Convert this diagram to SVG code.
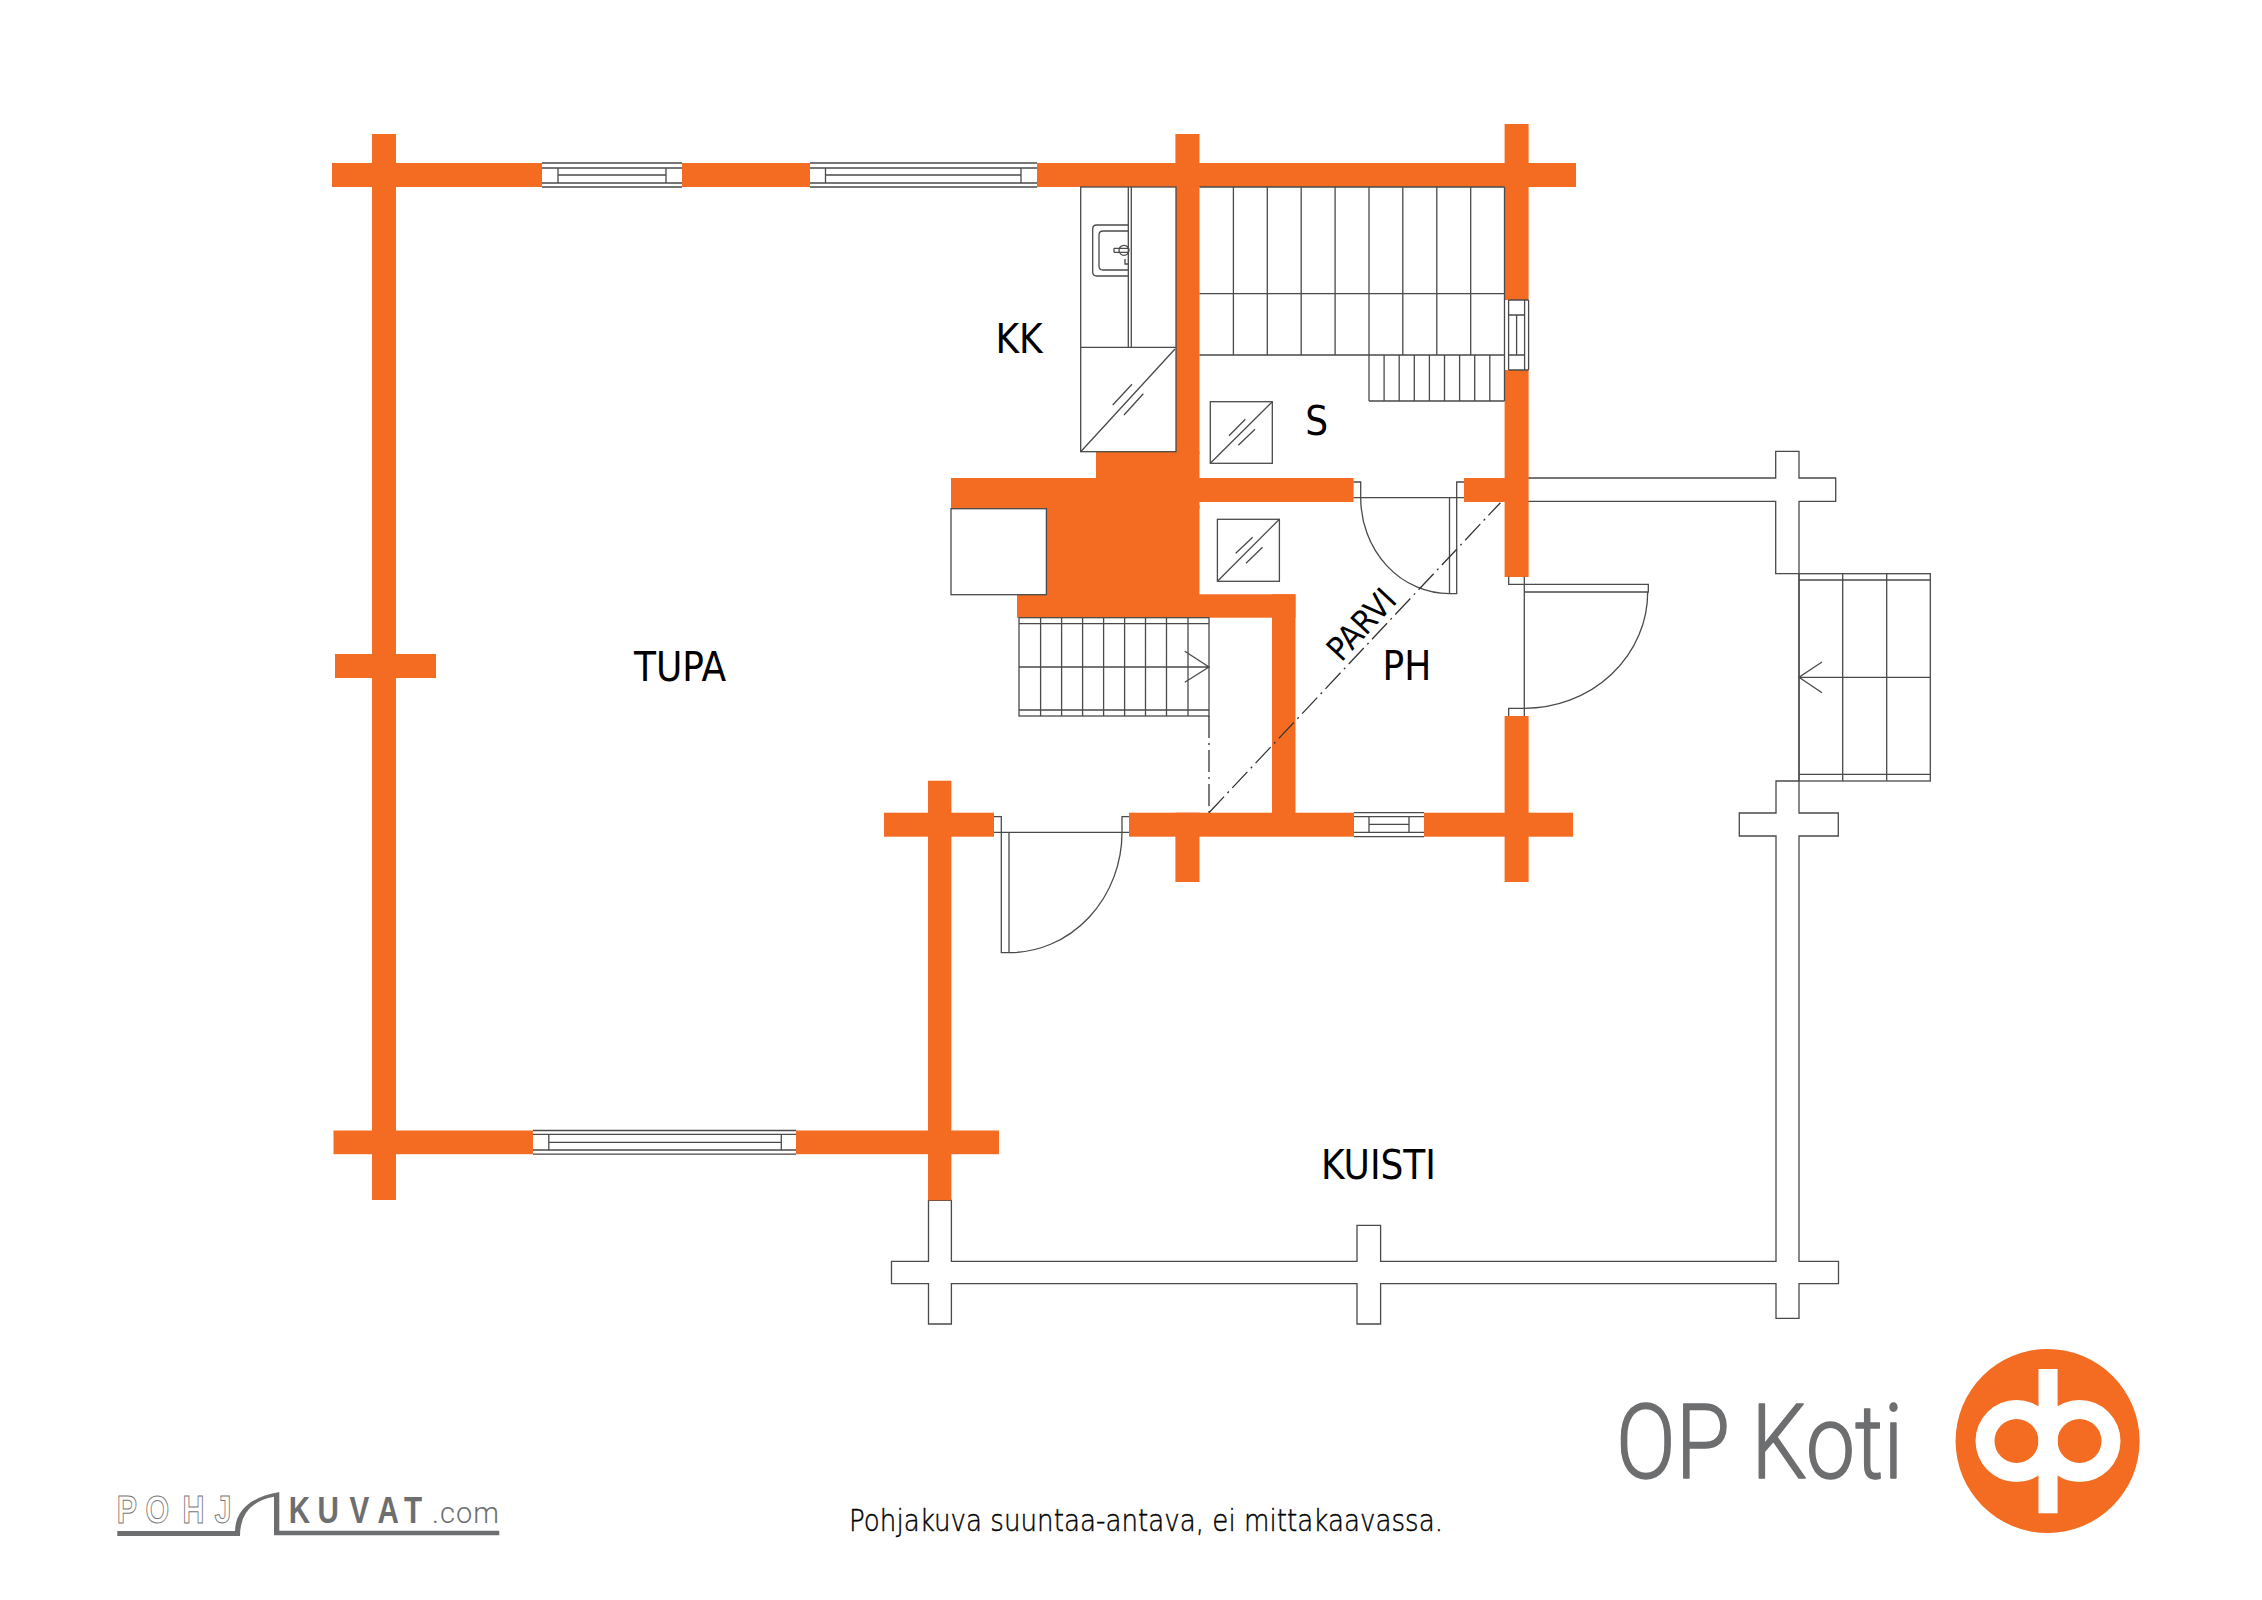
<svg xmlns="http://www.w3.org/2000/svg" width="2262" height="1600" viewBox="0 0 2262 1600">
<style>
.w{fill:#f36c21}
.l{fill:none;stroke:#4a4a4a;stroke-width:1.3}
.f{fill:#fff;stroke:#4a4a4a;stroke-width:1.3}
.n{fill:#fff}
.t{font-family:"DejaVu Sans","Liberation Sans",sans-serif;font-stretch:condensed;fill:#000;text-anchor:middle}
.r{font-size:40px}
.d{fill:none;stroke:#333;stroke-width:1.3;stroke-dasharray:22 5 2 5}
.g{fill:#6d6e70}
</style>
<rect width="2262" height="1600" fill="#fff"/>
<g id="porch-outline">
<path class="f" d="M1527.3 478H1775.7V451.3H1799V478H1835.7V501.3H1799V813H1838.3V836H1799V1261.3H1838.5V1283.7H1799V1318.3H1776V1283.7H1380.6V1324H1357V1283.7H951.4V1324H928.5V1283.7H891.5V1261.3H928.5V1200.3H951.4V1261.3H1357V1225.3H1380.6V1261.3H1776V836H1739.3V813H1776V781H1799V573.7H1775.7V501.3H1527.3Z"/>
</g>
<g id="walls">
<rect class="w" x="332" y="163" width="1244" height="24"/>
<rect class="w" x="372" y="134" width="24" height="1066"/>
<rect class="w" x="1175.4" y="134" width="24.1" height="320"/>
<rect class="w" x="1504.6" y="124" width="24" height="453"/>
<rect class="w" x="1504.6" y="716" width="24" height="166"/>
<rect class="w" x="335" y="654" width="101" height="24"/>
<rect class="w" x="1199" y="478" width="154.6" height="24"/>
<rect class="w" x="1464" y="478" width="41" height="24"/>
<rect class="w" x="1096" y="451.7" width="103.5" height="30"/>
<rect class="w" x="951" y="478" width="248.5" height="31"/>
<rect class="w" x="1046.4" y="505" width="153.1" height="92"/>
<rect class="w" x="1017" y="594.3" width="278.5" height="23.4"/>
<rect class="w" x="1272" y="594.3" width="23.5" height="230"/>
<rect class="w" x="1129" y="812.7" width="444" height="24"/>
<rect class="w" x="1175.4" y="812.7" width="24.1" height="69.3"/>
<rect class="w" x="928" y="780.7" width="23.4" height="419.6"/>
<rect class="w" x="884" y="812.7" width="110" height="24"/>
<rect class="w" x="333.5" y="1130.5" width="665.5" height="23.7"/>
</g>
<g id="windows">
<g id="window-top-1">
<rect class="n" x="542" y="163" width="140" height="24"/>
<path class="l" d="M542 163H682M542 168H682M542 183H682M542 187H682M558 168V183M666 168V183M558 175H666"/>
</g>
<g id="window-top-2">
<rect class="n" x="810" y="163" width="227" height="24"/>
<path class="l" d="M810 163H1037M810 168H1037M810 183H1037M810 187H1037M825.5 168V183M1021 168V183M825.5 175H1021"/>
</g>
<g id="window-bottom">
<rect class="n" x="533" y="1130.5" width="263" height="23.7"/>
<path class="l" d="M533 1130.5H796M533 1134.3H796M533 1150H796M533 1154.2H796M548.8 1134.3V1150M781.3 1134.3V1150M548.8 1142.3H781.3"/>
</g>
<g id="window-ph">
<rect class="n" x="1354" y="812.7" width="70" height="24"/>
<path class="l" d="M1354 812.7H1424M1354 816.7H1424M1354 832.3H1424M1354 836.7H1424M1369 816.7V832.3M1409 816.7V832.3M1369 824.3H1409"/>
</g>
<g id="window-s">
<rect class="n" x="1504.6" y="300" width="24" height="70"/>
<path class="l" d="M1508.6 300H1528.6M1508.6 370H1528.6M1508.6 300V370M1524.6 300V370M1528.6 300V370M1508.6 315H1524.6M1508.6 355H1524.6M1516.6 315V355"/>
</g>
</g>
<g id="kitchen">
<rect class="f" x="1080.7" y="187" width="95.3" height="264.7"/>
<path class="l" d="M1080.7 347.3H1176M1128.3 187V347.3M1131.3 187V347.3M1080.7 451.7L1175 349M1112.7 405L1132 384.3M1124 415L1143.3 393.7"/>
<path class="l" d="M1128.3 225H1096.7Q1092.7 225 1092.7 229V272Q1092.7 276 1096.7 276H1128.3M1128.3 231H1103Q1099 231 1099 235V266Q1099 270 1103 270H1128.3"/>
<circle class="l" cx="1124" cy="250.3" r="5"/>
<path class="l" d="M1114 248.3H1128M1114 252.3H1128M1114 248.3V252.3M1125 259V264H1128"/>
</g>
<g id="sauna-benches">
<path class="l" d="M1199.5 187H1504.6M1199.5 293.7H1504.6M1199.5 355H1504.6M1233.4 187V355M1267.3 187V355M1301.2 187V355M1335.1 187V355M1369 187V401M1402.8 187V355M1436.8 187V355M1470.7 187V355M1504.5 187V401M1369 401H1504.5M1384.1 355V401M1399.2 355V401M1414.3 355V401M1429.4 355V401M1444.5 355V401M1459.6 355V401M1474.7 355V401M1489.8 355V401"/>
</g>
<g id="stove-s">
<rect class="l" x="1210.3" y="401.7" width="62" height="61.6"/>
<path class="l" d="M1210.3 463.3L1272.3 401.7M1229 435.7L1245.3 419.3M1238.3 445.3L1255 429.3"/>
</g>
<g id="stove-ph">
<rect class="l" x="1217.4" y="519.3" width="62" height="62"/>
<path class="l" d="M1217.4 581.3L1279.4 519.3M1235.7 553.3L1252.7 537.3M1246 563.3L1262.5 547.3"/>
</g>
<g id="fireplace">
<rect class="f" x="951" y="508.7" width="95.4" height="86"/>
</g>
<g id="stairs">
<rect class="l" x="1019" y="617.7" width="190" height="98.3"/>
<path class="l" d="M1019 623.7H1209M1019 667H1209M1019 710H1209M1040.6 617.7V716M1061.6 617.7V716M1082.6 617.7V716M1103.6 617.7V716M1124.6 617.7V716M1145.5 617.7V716M1166.5 617.7V716M1188 617.7V716M1184.8 651.3L1209 667L1184.8 682.3"/>
</g>
<g id="porch-stairs">
<rect class="l" x="1799" y="573.7" width="131.3" height="207.3"/>
<path class="l" d="M1799 580H1930.3M1799 677.3H1930.3M1799 774.3H1930.3M1842.7 573.7V781M1886.7 573.7V781M1822 662L1799 677.3L1822 692.7"/>
</g>
<g id="doors">
<g id="door-s">
<path class="l" d="M1353.6 482H1360.7V497.7M1353.6 497.7H1464M1456.7 497.7V482H1464M1449.5 497.7V593.7H1456.7V497.7M1360.7 497.7A88.8 96 0 0 0 1449.5 593.7"/>
</g>
<g id="door-entry">
<path class="l" d="M994 816.7H1001.3V832.3M994 832.3H1129M1122 832.3V816.7H1129M1001.3 832.3V952.7H1009V832.3M1122 832.3A113 120.4 0 0 1 1009 952.7"/>
</g>
<g id="door-ph">
<path class="l" d="M1508.7 576.7V584.3H1648.3V592H1524.3M1524.3 576.7V716M1508.7 716V708.3H1524.3M1647.7 592A123.4 116.3 0 0 1 1524.3 708.3"/>
</g>
</g>
<g id="loft-lines">
<path class="d" d="M1209 812.7L1500.4 502.7M1209 716V812.7"/>
</g>
<g id="labels">
<text class="t r" x="1019" y="353">KK</text>
<text class="t r" x="1316.7" y="435">S</text>
<text class="t r" x="680" y="681">TUPA</text>
<text class="t r" x="1407" y="680">PH</text>
<text class="t r" x="1378.5" y="1178.7">KUISTI</text>
<text class="t" font-size="33" transform="translate(1361 624) rotate(-47)" y="12">PARVI</text>
<text font-family="DejaVu Sans,sans-serif" font-weight="200" font-size="31" fill="#000" stroke="#000" stroke-width=".45" x="849" y="1531" textLength="594" lengthAdjust="spacingAndGlyphs">Pohjakuva suuntaa-antava, ei mittakaavassa.</text>
</g>
<g id="op-koti">
<text class="g" font-family="Roboto,sans-serif" font-weight="300" font-size="103" stroke="#6d6e70" stroke-width="1.5" stroke-linejoin="round" transform="translate(1616 1478) scale(.855 1)">OP Koti</text>
<circle cx="2047.6" cy="1441" r="92" fill="#f36c21"/>
<circle cx="2016.5" cy="1441" r="41" fill="#fff"/>
<circle cx="2079.5" cy="1441" r="41" fill="#fff"/>
<circle cx="2016.5" cy="1441" r="22" fill="#f36c21"/>
<circle cx="2079.5" cy="1441" r="22" fill="#f36c21"/>
<rect x="2038.5" y="1369" width="19.1" height="144.3" fill="#fff"/>
</g>
<g id="pohjakuvat">
<text font-family="Liberation Sans,sans-serif" font-weight="700" font-size="38" fill="#fff" stroke="#777" stroke-width="1" transform="scale(.8 1)" x="146 182 228 268" y="1523">POHJ</text>
<text class="g" font-family="Liberation Sans,sans-serif" font-weight="700" font-size="37" transform="scale(.8 1)" x="361 397 437 472 505" y="1522.7">KUVAT</text>
<text font-family="Roboto,sans-serif" font-weight="300" font-size="29" fill="#6d6e70" x="432" y="1522.7" textLength="67">.com</text>
<path class="g" d="M117.3 1531H235Q236 1500 278.3 1492.3H279.3V1530.7H499.3V1535.3H274V1496.7Q240 1503 240 1536H117.3Z"/>
</g>
</svg>
